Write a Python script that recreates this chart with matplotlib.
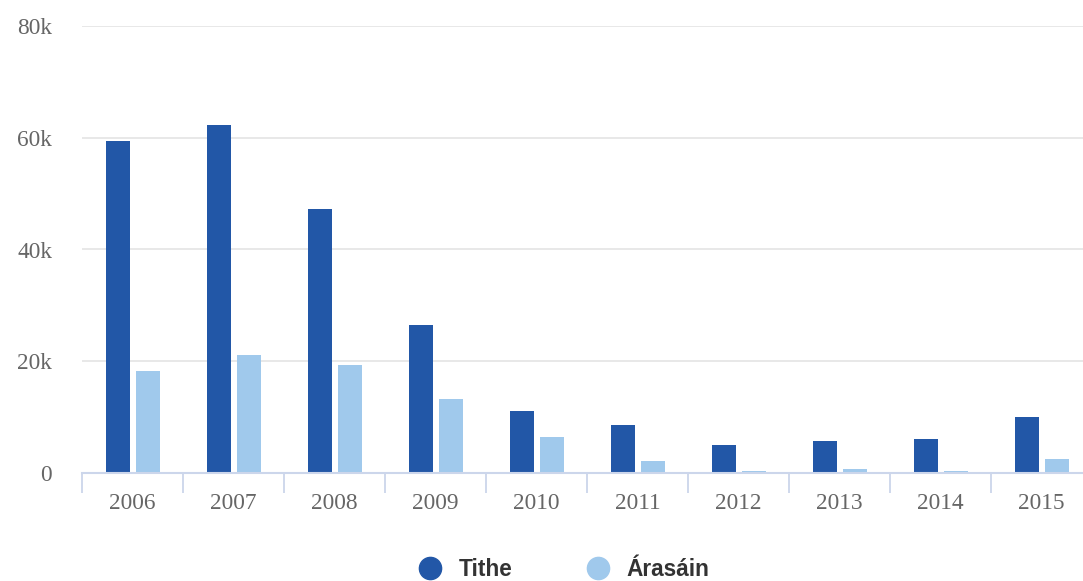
import matplotlib.pyplot as plt
from matplotlib.lines import Line2D
from matplotlib.ticker import FuncFormatter, FixedLocator
import numpy as np

years = ["2006", "2007", "2008", "2009", "2010", "2011", "2012", "2013", "2014", "2015"]
tithe = [59400, 62300, 47200, 26500, 11100, 8600, 5000, 5700, 6100, 10000]
arasain = [18300, 21100, 19300, 13200, 6400, 2100, 400, 700, 400, 2500]

dark = "#2257A7"
light = "#A0C9EC"
axis_col = "#CCD6EB"
grid_col = "#E6E6E6"
label_col = "#666666"

fig = plt.figure(figsize=(10.83, 5.81), dpi=100)
ax = fig.add_axes([82 / 1083, 108 / 581, 1010 / 1083, 447 / 581])

x = np.arange(len(years))
w = 0.24
ax.bar(x - 0.145, tithe, width=w, color=dark, zorder=3)
ax.bar(x + 0.152, arasain, width=w, color=light, zorder=3)

ax.set_xlim(-0.5, len(years) - 0.5)
ax.set_ylim(0, 80000)
ax.set_yticks([0, 20000, 40000, 60000, 80000])
ax.yaxis.set_major_formatter(FuncFormatter(lambda v, p: "0" if v == 0 else f"{int(v / 1000)}k"))
ax.grid(axis="y", color=grid_col, linewidth=1.3, zorder=0)
ax.set_axisbelow(True)

for s in ["top", "right", "left"]:
    ax.spines[s].set_visible(False)
ax.spines["bottom"].set_color(axis_col)
ax.spines["bottom"].set_linewidth(1.5)
ax.spines["bottom"].set_zorder(4)

ax.set_xticks(x)
ax.set_xticklabels(years)
ax.xaxis.set_minor_locator(FixedLocator(np.arange(-0.5, len(years), 1)))
ax.tick_params(axis="x", which="major", length=0, pad=14.5)
ax.tick_params(axis="x", which="minor", length=14.4, width=1.3, color=axis_col)
ax.tick_params(axis="y", length=0, pad=21.6)

for lab in ax.get_xticklabels() + ax.get_yticklabels():
    lab.set_fontfamily("Liberation Serif")
    lab.set_fontsize(16.8)
    lab.set_color(label_col)

handles = [
    Line2D([], [], marker="o", linestyle="none", markersize=16, color=dark, label="Tithe"),
    Line2D([], [], marker="o", linestyle="none", markersize=16, color=light, label="Árasáin"),
]
fig.legend(handles=handles, loc="center", bbox_to_anchor=(564 / 1083, 12 / 581),
           ncol=2, frameon=False, borderpad=0, handlelength=1, handletextpad=0.75,
           columnspacing=3.3, labelcolor="#333333",
           prop={"family": "Liberation Sans", "weight": "bold", "size": 16.3})

fig.savefig("out.png", dpi=100)
